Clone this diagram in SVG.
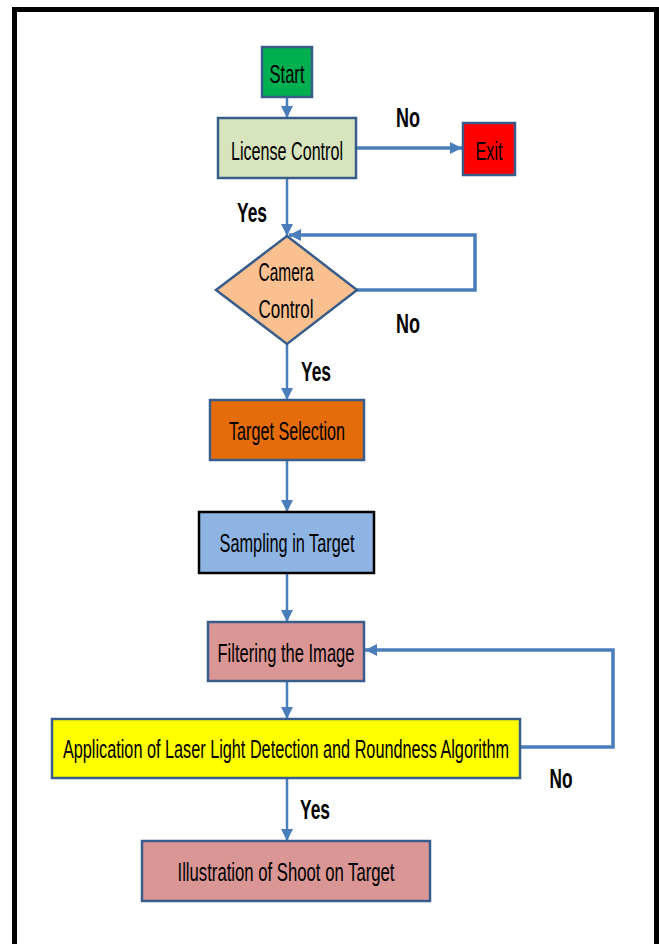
<svg xmlns="http://www.w3.org/2000/svg" width="659" height="944" viewBox="0 0 659 944">
<style>
.box{stroke:#385d8a;stroke-width:2.5}
.lbl{font-family:"Liberation Sans",Arial,sans-serif;font-size:26px;fill:#000;text-anchor:middle}
.yn{font-family:"Liberation Sans",Arial,sans-serif;font-size:28px;font-weight:bold;fill:#000;text-anchor:middle}
.c{fill:none;stroke:#4a7ebb;stroke-width:2.5}
.ct{fill:none;stroke:#4a7ebb;stroke-width:3.5}
</style>
<defs>
<marker id="ah" markerUnits="userSpaceOnUse" markerWidth="12" markerHeight="12" refX="10" refY="5" orient="auto" viewBox="0 0 10 10">
<path d="M0,0 L10,5 L0,10 Z" fill="#4a7ebb"/>
</marker>
</defs>
<rect width="659" height="944" fill="#fff"/>
<rect x="14.5" y="9.5" width="642" height="960" fill="none" stroke="#000" stroke-width="5"/>
<g id="connectors">
<line class="c" x1="287" y1="97" x2="287" y2="118" marker-end="url(#ah)"/>
<line class="ct" x1="356" y1="148" x2="462" y2="148" marker-end="url(#ah)"/>
<line class="c" x1="287" y1="178" x2="287" y2="236" marker-end="url(#ah)"/>
<polyline class="ct" points="357,290 475,290 475,235 289,235" marker-end="url(#ah)"/>
<line class="c" x1="287" y1="344" x2="287" y2="400" marker-end="url(#ah)"/>
<line class="c" x1="287" y1="460" x2="287" y2="512" marker-end="url(#ah)"/>
<line class="c" x1="287" y1="573" x2="287" y2="622" marker-end="url(#ah)"/>
<line class="c" x1="287" y1="681" x2="287" y2="719" marker-end="url(#ah)"/>
<polyline class="ct" points="520,747 613,747 613,650 365,650" marker-end="url(#ah)"/>
<line class="c" x1="287" y1="778" x2="287" y2="841" marker-end="url(#ah)"/>
<text class="yn" x="408" y="127" textLength="24" lengthAdjust="spacingAndGlyphs">No</text>
<text class="yn" x="252" y="222" textLength="30" lengthAdjust="spacingAndGlyphs">Yes</text>
<text class="yn" x="408" y="333" textLength="24" lengthAdjust="spacingAndGlyphs">No</text>
<text class="yn" x="316" y="381" textLength="30" lengthAdjust="spacingAndGlyphs">Yes</text>
<text class="yn" x="561" y="788" textLength="23" lengthAdjust="spacingAndGlyphs">No</text>
<text class="yn" x="315" y="819" textLength="30" lengthAdjust="spacingAndGlyphs">Yes</text>
</g>
<g id="start">
<rect class="box" x="262" y="47" width="50" height="50" fill="#00b050"/>
<text class="lbl" x="287" y="83" textLength="35" lengthAdjust="spacingAndGlyphs">Start</text>
</g>
<g id="license">
<rect class="box" x="218" y="118" width="138" height="60" fill="#d7e4bd"/>
<text class="lbl" x="287" y="160" textLength="112" lengthAdjust="spacingAndGlyphs">License Control</text>
</g>
<g id="exit">
<rect class="box" x="463" y="123" width="52" height="52" fill="#ff0000"/>
<text class="lbl" x="489" y="160" textLength="27" lengthAdjust="spacingAndGlyphs">Exit</text>
</g>
<g id="camera">
<polygon class="box" points="287,236 357,290 287,344 216,290" fill="#fac090"/>
<text class="lbl" x="286" y="281" textLength="55" lengthAdjust="spacingAndGlyphs">Camera</text>
<text class="lbl" x="286" y="318" textLength="55" lengthAdjust="spacingAndGlyphs">Control</text>
</g>
<g id="target">
<rect class="box" x="210" y="400" width="154" height="60" fill="#e46c0a"/>
<text class="lbl" x="287" y="440" textLength="116" lengthAdjust="spacingAndGlyphs">Target Selection</text>
</g>
<g id="sampling">
<rect x="199" y="512" width="175" height="61" fill="#8eb4e3" stroke="#000" stroke-width="2.5"/>
<text class="lbl" x="287" y="552" textLength="135" lengthAdjust="spacingAndGlyphs">Sampling in Target</text>
</g>
<g id="filtering">
<rect class="box" x="208" y="622" width="156" height="59" fill="#d99694"/>
<text class="lbl" x="286" y="662" textLength="137" lengthAdjust="spacingAndGlyphs">Filtering the Image</text>
</g>
<g id="application">
<rect class="box" x="52" y="719" width="468" height="59" fill="#ffff00" stroke-width="3.5"/>
<text class="lbl" transform="translate(286,758) scale(0.64,1)" x="0" y="0" textLength="697" lengthAdjust="spacingAndGlyphs">Application of Laser Light Detection and Roundness Algorithm</text>
</g>
<g id="illustration">
<rect class="box" x="142" y="841" width="288" height="60" fill="#d99694"/>
<text class="lbl" x="286" y="881" textLength="217" lengthAdjust="spacingAndGlyphs">Illustration of Shoot on Target</text>
</g>
</svg>
